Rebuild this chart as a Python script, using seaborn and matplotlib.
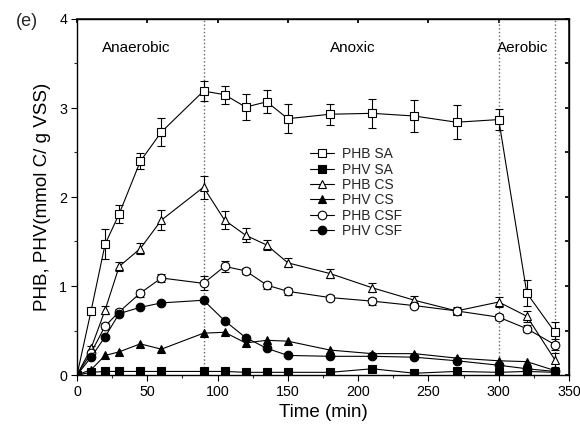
import matplotlib
matplotlib.use("Agg")
import matplotlib.pyplot as plt
import seaborn as sns
import numpy as np
from matplotlib.ticker import MultipleLocator

time = [0, 10, 20, 30, 45, 60, 90, 105, 120, 135, 150, 180, 210, 240, 270, 300, 320, 340]

phb_sa = [0.0, 0.72, 1.47, 1.81, 2.40, 2.73, 3.19, 3.15, 3.01, 3.07, 2.88, 2.93, 2.94, 2.91, 2.84, 2.87, 0.92, 0.48]
phb_sa_err = [0.0, 0.03, 0.17, 0.10, 0.09, 0.16, 0.11, 0.10, 0.15, 0.13, 0.16, 0.12, 0.16, 0.18, 0.19, 0.12, 0.15, 0.11]
phv_sa = [0.0, 0.03, 0.04, 0.04, 0.04, 0.04, 0.04, 0.04, 0.03, 0.03, 0.03, 0.03, 0.07, 0.02, 0.04, 0.03, 0.04, 0.03]
phb_cs = [0.0, 0.30, 0.73, 1.22, 1.42, 1.74, 2.11, 1.74, 1.57, 1.46, 1.26, 1.14, 0.98, 0.84, 0.72, 0.82, 0.66, 0.17]
phb_cs_err = [0.0, 0.03, 0.05, 0.05, 0.06, 0.11, 0.13, 0.10, 0.08, 0.06, 0.05, 0.05, 0.05, 0.05, 0.04, 0.06, 0.06, 0.08]
phv_cs = [0.0, 0.06, 0.22, 0.26, 0.35, 0.29, 0.47, 0.48, 0.36, 0.39, 0.38, 0.28, 0.24, 0.24, 0.19, 0.16, 0.15, 0.05]
phb_csf = [0.0, 0.25, 0.55, 0.71, 0.92, 1.09, 1.03, 1.22, 1.17, 1.01, 0.94, 0.87, 0.83, 0.78, 0.72, 0.65, 0.52, 0.34]
phb_csf_err = [0.0, 0.02, 0.03, 0.03, 0.04, 0.04, 0.08, 0.06, 0.03, 0.04, 0.04, 0.03, 0.04, 0.03, 0.03, 0.03, 0.04, 0.06]
phv_csf = [0.0, 0.20, 0.43, 0.69, 0.76, 0.81, 0.84, 0.61, 0.42, 0.30, 0.22, 0.21, 0.21, 0.20, 0.16, 0.11, 0.07, 0.04]

labels = ["PHB SA", "PHV SA", "PHB CS", "PHV CS", "PHB CSF", "PHV CSF"]
phases = ["Anaerobic", "Anoxic", "Aerobic"]
phase_text_x = [42, 196, 317]
phase_bounds = [90, 300, 340]

sns.set_theme(style="ticks")
plt.rcParams['font.family'] = ['Liberation Sans', 'DejaVu Sans']

fig = plt.figure(figsize=(5.8, 4.36), dpi=100)
ax = fig.add_axes([77/580, 61/436, 492/580, 356/436])

series = [
    (phb_sa, phb_sa_err, "s", "white"),
    (phv_sa, None, "s", "black"),
    (phb_cs, phb_cs_err, "^", "white"),
    (phv_cs, None, "^", "black"),
    (phb_csf, phb_csf_err, "o", "white"),
    (phv_csf, None, "o", "black"),
]
for (vals, err, mk, fc), lab in zip(series, labels):
    if err is not None:
        ax.errorbar(time, vals, yerr=err, fmt="none", ecolor="black",
                    elinewidth=0.8, capsize=2.6, capthick=0.8, zorder=2)
    sns.lineplot(x=time, y=vals, ax=ax, color="black", linewidth=0.8,
                 marker=mk, markersize=6.2,
                 markerfacecolor=fc, markeredgecolor="black",
                 markeredgewidth=0.8, label=lab, zorder=3)

for b in phase_bounds:
    ax.axvline(b, color="#666666", linestyle=":", linewidth=1.0, zorder=1)

ax.set_xlim(0, 350)
ax.set_ylim(0, 4)
ax.xaxis.set_major_locator(MultipleLocator(50))
ax.xaxis.set_minor_locator(MultipleLocator(25))
ax.yaxis.set_major_locator(MultipleLocator(1))
ax.yaxis.set_minor_locator(MultipleLocator(0.5))
ax.tick_params(axis="both", which="major", direction="out", length=4, width=0.8,
               labelsize=10.3, colors="black", top=False, right=False, pad=3)
ax.tick_params(axis="both", which="minor", direction="out", length=2.5, width=0.8,
               top=False, right=False)
ax2 = ax.secondary_xaxis("top")
ax2.xaxis.set_major_locator(MultipleLocator(50))
ax2.tick_params(direction="in", length=3, labeltop=False, colors="black")
ax3 = ax.secondary_yaxis("right")
ax3.yaxis.set_major_locator(MultipleLocator(0.5))
ax3.tick_params(direction="in", length=3, labelright=False, colors="black")

for s in ax.spines.values():
    s.set_color("black")
    s.set_linewidth(1.0)

ax.set_xlabel("Time (min)", fontsize=13.5, color="black", labelpad=4)
ax.set_ylabel("PHB, PHV(mmol C/ g VSS)", fontsize=13.5, color="black", labelpad=6)

for name, tx in zip(phases, phase_text_x):
    ax.text(tx, 3.67, name, ha="center", va="center", fontsize=11, color="black")
fig.text(27/580, 1 - 22/436, "(e)", fontsize=13, ha="center", va="center")

leg = ax.legend(loc="upper left", bbox_to_anchor=(0.474, 0.64), frameon=False,
                fontsize=10, handlelength=1.7, handletextpad=0.6,
                labelspacing=0.1, borderaxespad=0, borderpad=0)

fig.savefig("out.png", dpi=100)
